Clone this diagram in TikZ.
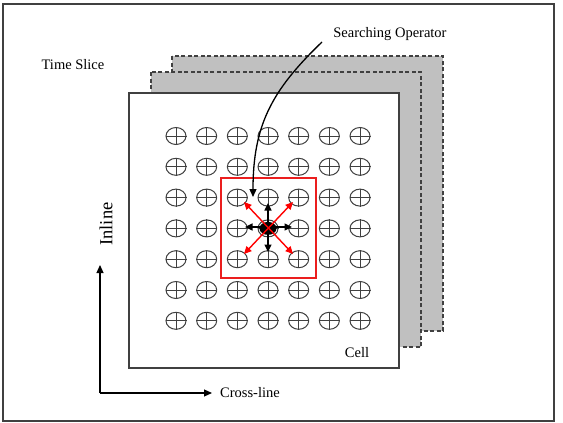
\documentclass[tikz,border=0pt]{standalone}
\usepackage{fontspec}
\setmainfont{Liberation Serif}
\usepackage{tikz}
\usetikzlibrary{
  arrows.meta,
  shapes.geometric
}
\definecolor{slicegray}{RGB}{192,192,192}
\definecolor{inkgray}{RGB}{64,64,64}
\definecolor{opred}{RGB}{235,30,30}
\tikzset{
  lbl/.style={ font=\fontsize{14.5}{17}\selectfont, inner sep=0pt },
  slice/.style={
    draw=inkgray,
    fill=slicegray,
    line width=1.3pt,
    dash pattern=on 4pt off 2.5pt
  },
  front/.style={
    draw=inkgray,
    fill=white,
    line width=1.4pt
  },
  cellpt/.style={
    ellipse,
    draw=inkgray,
    line width=1pt,
    minimum width=20pt,
    minimum height=17pt,
    inner sep=0pt
  },
  arrow/.style={
    -{Triangle[length=8pt,width=7pt]},
    line width=1.2pt,
    draw=black
  },
  nbr/.style={
    {Triangle[length=7.5pt,width=7pt]}-{Triangle[length=7.5pt,width=7pt]},
    line width=1.4pt
  }
}

\begin{document}
\begin{tikzpicture}[x=1pt, y=-1pt]
  \useasboundingbox (0,0) rectangle (563,423);
  \draw[inkgray, line width=1.5pt] (3,4) rectangle (554,421);

  % stacked time slices
  \draw[slice] (172,56) rectangle (443,331);
  \draw[slice] (151,72) rectangle (421,347);
  \draw[front] (129,93) rectangle (399,368);

  % 7x7 grid of cells
  \foreach \i in {0,...,6}
    \foreach \j in {0,...,6} {
      \node[cellpt] (g-\i-\j) at (176+30.67*\i, 136+30.8*\j) {};
      \draw[inkgray, line width=1pt] (g-\i-\j.north) -- (g-\i-\j.south)
        (g-\i-\j.west) -- (g-\i-\j.east);
    }

  % search window
  \draw[opred, line width=1.4pt] (221,178) rectangle (316,278);
  \node[ellipse, fill=black, minimum width=17pt, minimum height=13pt,
    inner sep=0pt] (ctr) at (g-3-3) {};
  \coordinate (up) at (268,203);
  \coordinate (dn) at (268,252);
  \coordinate (lf) at (245,227);
  \coordinate (rt) at (292,227);
  \draw[nbr, black] (up) -- (dn);
  \draw[nbr, black] (lf) -- (rt);
  \coordinate (nw) at (244,202);
  \coordinate (ne) at (293,202);
  \coordinate (sw) at (244,254);
  \coordinate (se) at (293,254);
  \draw[nbr, red] (nw) -- (se);
  \draw[nbr, red] (ne) -- (sw);

  % labels
  \node[lbl] (op) at (390,34) {Searching Operator};
  \node[lbl] (ts) at (73,65) {Time Slice};
  \node[lbl] (cell) at (357,353) {Cell};
  \node[lbl, anchor=west] (xl) at (220,393) {Cross-line};
  \node[lbl, font=\fontsize{18.5}{20}\selectfont, rotate=90] (il) at (106,224) {Inline};

  % operator pointer
  \coordinate (opstart) at (322,42);
  \coordinate (optip) at (253,197);
  \draw[arrow, line width=1.3pt] (opstart) .. controls (272,90) and (253,125) .. (optip);

  % axes
  \coordinate (orig) at (100,393);
  \coordinate (ytip) at (100,265);
  \coordinate (xtip) at (212,393);
  \draw[arrow] (orig) -- (ytip);
  \draw[arrow] (orig) -- (xtip);
\end{tikzpicture}
\end{document}
